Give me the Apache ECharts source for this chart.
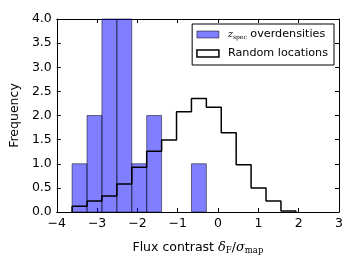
<!DOCTYPE html>
<html><head><meta charset="utf-8">
<script src="https://cdn.jsdelivr.net/npm/echarts@6/dist/echarts.min.js"></script>
<style>html,body{margin:0;padding:0;background:#fff}#c{width:357px;height:268px}</style>
</head><body><div id="c"></div>
<script>
const binEdges = [-3.62,-3.25,-2.88,-2.51,-2.14,-1.77,-1.40,-1.03,-0.66,-0.29,0.08,0.45,0.82,1.19,1.56,1.93];
const zspecCounts = [1,2,4,4,1,2,0,0,1,0,0,0,0,0,0];
const randomFreq = [0.12,0.23,0.33,0.58,0.93,1.26,1.49,2.08,2.35,2.17,1.64,0.98,0.50,0.23,0.02];
const xTicks = [-4,-3,-2,-1,0,1,2,3];
const yTicks = [0,0.5,1,1.5,2,2.5,3,3.5,4];

const barData = [];
zspecCounts.forEach((c,i)=>{ if(c>0) barData.push([binEdges[i],binEdges[i+1],c]); });
const stepData = [[binEdges[0],0]];
randomFreq.forEach((v,i)=>stepData.push([binEdges[i],v]));
stepData.push([binEdges[binEdges.length-1],0]);

const font = 'DejaVu Sans';
const fs = 12.5;
const lfs = 11.2;
const chart = echarts.init(document.getElementById('c'),null,{renderer:'canvas'});
const axLine = {show:true,onZero:false,lineStyle:{color:'#000',width:1}};
const tick = {show:true,inside:true,length:4,lineStyle:{color:'#000',width:1}};
chart.setOption({
  animation:false,
  grid:{left:55,right:18,top:19,bottom:56},
  xAxis:[{type:'value',min:xTicks[0],max:xTicks[xTicks.length-1],interval:1,
    axisLine:axLine,axisTick:tick,splitLine:{show:false},
    axisLabel:{color:'#000',fontFamily:font,fontSize:fs,margin:5,formatter:v=>String(v).replace('-','\u2212')},
    name:'{t|Flux contrast }{g|\u03b4}{s|F}{t|/}{g|\u03c3}{s|map}',nameLocation:'middle',nameGap:28,
    nameTextStyle:{rich:{
      t:{fontFamily:font,fontSize:fs,color:'#000'},
      g:{fontFamily:'DejaVu Serif',fontStyle:'italic',fontSize:13,color:'#000'},
      s:{fontFamily:'DejaVu Serif',fontSize:8.5,color:'#000',verticalAlign:'bottom',padding:[6,0,0,0]}
    }}},
    {type:'value',position:'top',min:xTicks[0],max:xTicks[xTicks.length-1],interval:1,
    axisLine:axLine,axisTick:tick,axisLabel:{show:false},splitLine:{show:false}}],
  yAxis:[{type:'value',min:0,max:4,interval:0.5,
    axisLine:axLine,axisTick:tick,splitLine:{show:false},
    axisLabel:{color:'#000',fontFamily:font,fontSize:fs,margin:5,formatter:v=>v.toFixed(1)},
    name:'Frequency',nameLocation:'middle',nameGap:35,
    nameTextStyle:{fontFamily:font,fontSize:fs,color:'#000'}},
    {type:'value',position:'right',min:0,max:4,interval:0.5,
    axisLine:axLine,axisTick:tick,axisLabel:{show:false},splitLine:{show:false}}],
  legend:{orient:'vertical',right:23,top:24,itemWidth:22,itemHeight:7,itemGap:8,
    padding:[5,6,6,4],borderColor:'#000',borderWidth:1,borderRadius:0,backgroundColor:'#fff',
    textStyle:{fontFamily:font,fontSize:lfs,color:'#000',padding:[0,0,0,4],
      rich:{z:{fontFamily:'DejaVu Serif',fontStyle:'italic',fontSize:9.5,color:'#000'},
            s:{fontFamily:'DejaVu Serif',fontSize:6,color:'#000',verticalAlign:'bottom',padding:[4,0,0,0]},
            t:{fontFamily:font,fontSize:lfs,color:'#000'}}},
    formatter:n=> n==='zspec' ? '{z|z}{s|spec}{t| overdensities}' : n,
    data:[{name:'zspec',icon:'rect',itemStyle:{color:'rgba(0,0,255,0.5)',borderColor:'rgba(0,0,0,0.5)',borderWidth:1}},
          {name:'Random locations',icon:'rect',itemStyle:{color:'#fff',borderColor:'#000',borderWidth:1.5}}]},
  series:[
    {name:'zspec',type:'custom',z:2,data:barData,
     itemStyle:{color:'rgba(0,0,255,0.5)'},
     renderItem:(params,api)=>{
       const p0=api.coord([api.value(0),api.value(2)]);
       const p1=api.coord([api.value(1),0]);
       return {type:'rect',shape:{x:p0[0],y:p0[1],width:p1[0]-p0[0],height:p1[1]-p0[1]},
         style:{fill:'rgba(0,0,255,0.5)',stroke:'rgba(0,0,0,0.5)',lineWidth:1}};
     }},
    {name:'Random locations',type:'line',step:'end',z:3,data:stepData,symbol:'none',
     lineStyle:{color:'#000',width:1.5},itemStyle:{color:'#000'}}
  ]
});
</script></body></html>
